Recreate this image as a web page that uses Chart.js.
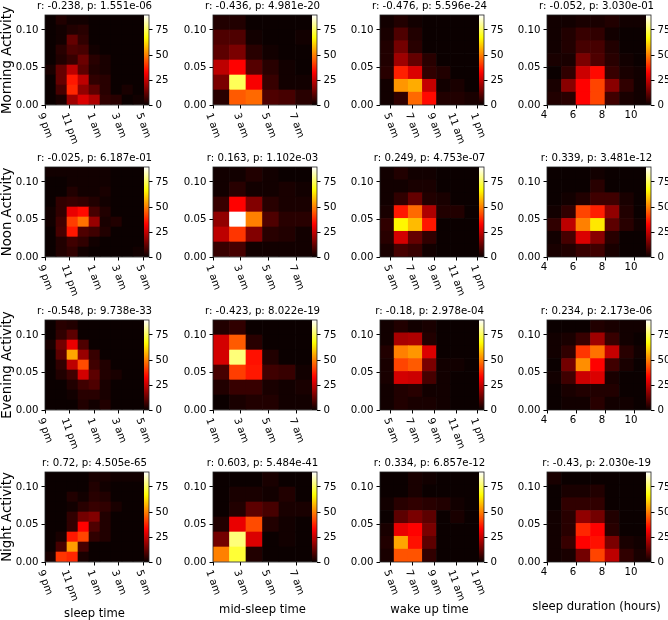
<!DOCTYPE html>
<html><head><meta charset="utf-8">
<style>html,body{margin:0;padding:0;background:#fff;overflow:hidden}#wrap{position:relative;width:668px;height:620px;overflow:hidden}canvas{position:absolute}</style>
<script src="https://cdn.jsdelivr.net/npm/chart.js@4/dist/chart.umd.js"></script>
</head><body><div id="wrap"></div>
<script>
const morningSleepTime=[[0,3,1,1,0,0,0,0,0],[0,1,3,4,0,0,0,0,0],[0,1,12,5,0,0,0,0,0],[0,4,9,8,1,0,0,0,0],[0,3,6,13,4,2,0,0,0],[2,12,24,11,3,2,0,0,0],[0,12,36,24,5,4,0,0,0],[0,8,38,18,11,4,0,2,0],[0,2,20,28,22,5,4,0,1]];
const morningMidSleep=[[3,3,0,0,0,0],[9,9,1,0,0,1],[11,15,4,1,0,0],[24,33,10,4,1,0],[15,75,32,6,1,1],[4,45,47,9,8,4]];
const morningWakeUp=[[1,3,1,0,0,0,0],[2,9,3,0,0,0,0],[3,14,4,0,0,0,0],[3,20,12,4,0,0,0],[4,37,28,5,3,0,0],[1,53,56,25,1,2,0],[1,5,47,34,3,3,2]];
const morningDuration=[[1,1,2,2,3,1,1],[1,3,6,5,1,0,0],[1,3,8,8,3,0,0],[2,2,15,9,4,1,0],[0,5,26,34,6,2,1],[2,17,33,42,17,5,1],[3,4,33,42,7,2,1]];
const noonSleepTime=[[1,1,1,1,1,1,0,0,0],[0,0,1,1,1,1,0,0,0],[0,0,3,1,1,2,0,0,0],[0,5,6,5,3,1,0,0,0],[1,5,30,34,8,3,0,0,0],[1,7,41,48,19,2,3,0,0],[0,8,36,9,7,3,0,0,0],[0,3,7,5,1,0,0,0,0],[0,3,5,1,0,0,0,0,1]];
const noonMidSleep=[[1,1,3,1,0,0],[1,4,1,1,2,1],[6,33,16,4,2,2],[18,90,50,9,4,4],[24,40,16,4,3,1],[6,8,1,1,1,1]];
const noonWakeUp=[[1,3,1,1,0,0,0],[1,1,2,2,0,0,0],[1,5,12,3,2,0,0],[2,36,47,22,3,3,0],[5,66,58,36,0,0,0],[4,27,12,5,0,0,0],[2,8,6,1,0,0,0]];
const noonDuration=[[0,0,0,1,0,0,0],[0,0,0,4,0,0,0],[0,1,3,7,7,2,0],[1,5,42,37,18,3,0],[5,24,50,64,11,4,1],[1,8,28,17,4,0,0],[2,3,6,7,2,0,0]];
const eveningSleepTime=[[0,4,3,0,0,0,0,0,0],[0,5,11,0,0,0,0,0,0],[2,14,30,9,0,0,0,0,0],[0,11,55,19,6,0,0,0,0],[0,5,24,43,7,3,0,0,0],[0,3,7,27,11,3,2,0,0],[0,0,3,7,9,2,0,0,0],[0,0,1,4,4,2,0,0,0],[0,0,0,3,1,3,0,0,0]];
const eveningMidSleep=[[3,5,0,0,0,0],[27,45,4,0,0,0],[27,78,35,3,0,0],[8,41,36,7,6,1],[3,6,6,2,1,2],[0,2,3,3,1,1]];
const eveningWakeUp=[[1,3,1,2,0,0,0],[1,21,22,3,0,0,0],[3,50,53,28,0,0,0],[2,42,45,15,1,1,0],[2,27,26,8,1,0,0],[1,3,4,1,1,0,0],[1,3,2,2,1,0,0]];
const eveningDuration=[[0,0,0,3,2,1,1],[1,2,6,20,6,1,0],[1,5,40,48,25,4,1],[0,14,52,33,7,2,0],[1,7,26,28,2,0,0],[0,2,3,3,3,0,0],[0,1,1,4,1,1,0]];
const nightSleepTime=[[0,0,0,0,2,2,1,1,1],[0,0,0,0,3,1,0,0,0],[0,0,3,1,4,3,0,0,0],[0,0,1,4,6,5,2,0,0],[0,0,5,14,16,3,0,0,0],[0,0,5,33,9,3,0,0,0],[0,2,36,42,5,3,0,0,0],[0,8,54,8,0,0,0,0,0],[2,40,38,2,0,0,0,0,0]];
const nightMidSleep=[[0,0,0,2,0,0],[0,2,2,1,3,0],[0,3,11,8,2,2],[3,30,43,3,1,0],[14,78,28,0,1,0],[50,72,3,0,0,0]];
const nightWakeUp=[[0,0,2,1,0,0,0],[0,0,2,0,0,0,0],[1,4,5,4,3,1,0],[0,11,15,11,0,2,0],[2,30,33,15,0,0,0],[3,55,35,11,0,0,0],[2,44,44,5,0,0,0]];
const nightDuration=[[2,0,0,0,0,0,0],[0,2,2,3,0,0,0],[0,5,5,5,0,0,0],[1,4,18,14,3,0,0],[1,4,38,33,4,0,0],[1,6,33,35,15,2,1],[1,2,14,42,24,5,2]];

const rowLabels=["Morning Activity","Noon Activity","Evening Activity","Night Activity"];
const columnLabels=["sleep time","mid-sleep time","wake up time","sleep duration (hours)"];
const titles=[
 ["r: -0.238, p: 1.551e-06","r: -0.436, p: 4.981e-20","r: -0.476, p: 5.596e-24","r: -0.052, p: 3.030e-01"],
 ["r: -0.025, p: 6.187e-01","r: 0.163, p: 1.102e-03","r: 0.249, p: 4.753e-07","r: 0.339, p: 3.481e-12"],
 ["r: -0.548, p: 9.738e-33","r: -0.423, p: 8.022e-19","r: -0.18, p: 2.978e-04","r: 0.234, p: 2.173e-06"],
 ["r: 0.72, p: 4.505e-65","r: 0.603, p: 5.484e-41","r: 0.334, p: 6.857e-12","r: -0.43, p: 2.030e-19"]];
const grids=[
 [morningSleepTime,morningMidSleep,morningWakeUp,morningDuration],
 [noonSleepTime,noonMidSleep,noonWakeUp,noonDuration],
 [eveningSleepTime,eveningMidSleep,eveningWakeUp,eveningDuration],
 [nightSleepTime,nightMidSleep,nightWakeUp,nightDuration]];
const xTickValues=[[21,23,25,27,29],[1,3,5,7],[5,7,9,11,13],[4,6,8,10]];
const xTickLabels=[["9 pm","11 pm","1 am","3 am","5 am"],["1 am","3 am","5 am","7 am"],["5 am","7 am","9 am","11 am","1 pm"],["4","6","8","10"]];
const xStart=[21,1,4,4];
const xEnd=[29.47,8.47,13.57,11.17];
const binWidth=[0.896,1.185,1.30,1.0];
const yTicks=[0,0.05,0.10];
const yMax=0.12;
const colorbarTicks=[0,25,50,75];
const colorMax=90;

const lefts=[45,213,380,547], tops=[15,167,320,472];
const labelOffset=[52,48,48,45];
const FONT='"DejaVu Sans"';
const TICK=10.2;
Chart.defaults.font.family=FONT;
Chart.defaults.color='#000';

const clamp=v=>Math.max(0,Math.min(1,v));
function hot(t){t=clamp(t);
 const r=clamp(.0416+t*2.626),g=clamp((t-.365)/.381),b=clamp((t-.746)/.254);
 return `rgb(${Math.round(r*255)},${Math.round(g*255)},${Math.round(b*255)})`;}

const frame={id:'frame',afterDatasetsDraw(c,args,opts){
 const a=c.chartArea,ctx=c.ctx,cb=c.scales.cb,w=5;
 const g=ctx.createLinearGradient(0,cb.getPixelForValue(0),0,cb.getPixelForValue(colorMax));
 for(let i=0;i<=40;i++)g.addColorStop(i/40,hot(i/40));
 ctx.save();ctx.fillStyle=g;ctx.fillRect(a.right-w,a.top,w,a.bottom-a.top);
 ctx.strokeStyle='#222';ctx.lineWidth=.8;
 ctx.strokeRect(a.left,a.top,a.right-a.left,a.bottom-a.top);
 ctx.fillStyle='#000';ctx.textAlign='center';ctx.textBaseline='middle';
 if(opts.xLabel){ctx.font=`11.6px ${FONT}`;ctx.fillText(opts.xLabel,a.left+(a.right-a.left-w)/2,a.bottom+opts.xOffset);}
 if(opts.yLabel){ctx.translate(7.5,(a.top+a.bottom)/2);ctx.rotate(-Math.PI/2);ctx.font=`13.3px ${FONT}`;ctx.fillText(opts.yLabel,0,0);}
 ctx.restore();}};

function placeXLabels(scale,rotated){
 if(scale._placed)return;scale._placed=true;
 const orig=scale._computeLabelItems;
 scale._computeLabelItems=function(ca){
  const items=orig.call(this,ca),ctx=this.ctx,s=Math.sin(70*Math.PI/180),k=Math.cos(70*Math.PI/180);
  items.forEach((it,i)=>{
   const px=this.getPixelForValue(this.ticks[i].value);
   ctx.save();ctx.font=it.font.string;const w=ctx.measureText(it.label).width;ctx.restore();
   const h=it.font.size;
   it.textOffset=0;it.options.textAlign='center';it.options.textBaseline='middle';
   it.options.translation=rotated?[px,this.top+6.5+(w*s+h*k)/2]:[px-3,this.top+10];
  });
  return items;};
}

const wrap=document.getElementById('wrap');
grids.forEach((row,r)=>row.forEach((grid,c)=>{
 const cv=document.createElement('canvas');
 cv.width=189;cv.height=163;
 cv.style.left=(lefts[c]-45)+'px';cv.style.top=(tops[r]-15)+'px';
 cv.style.width='189px';cv.style.height='163px';
 wrap.appendChild(cv);
 const n=grid.length,h=yMax/n,cells=[];
 grid.forEach((vals,ri)=>vals.forEach((v,ci)=>cells.push({x:xStart[c]+(ci+.5)*binWidth[c],y:[yMax-(ri+1)*h,yMax-ri*h],v})));
 const rotated=c<3;
 new Chart(cv,{type:'bar',
  data:{datasets:[{data:cells,backgroundColor:cells.map(p=>hot(p.v/colorMax)),borderWidth:0,grouped:false,barPercentage:1,categoryPercentage:1}]},
  options:{responsive:false,animation:false,devicePixelRatio:1,
   layout:{padding:0},
   plugins:{legend:{display:false},tooltip:{enabled:false},
    frame:{xLabel:r===3?columnLabels[c]:'',xOffset:labelOffset[c],yLabel:c===0?rowLabels[r]:''},
    title:{display:true,text:titles[r][c],font:{size:TICK,weight:'normal',family:FONT,lineHeight:1.2},color:'#000',padding:{top:0,bottom:15-TICK*1.2}}},
   scales:{
    x:{type:'linear',offset:false,min:xStart[c],max:xEnd[c],position:'bottom',
     grid:{display:true,drawOnChartArea:false,tickLength:3.5,tickColor:'#000',offset:false},border:{display:false},
     afterBuildTicks:s=>{s.ticks=xTickValues[c].map(value=>({value}));placeXLabels(s,rotated);},
     afterFit:s=>{s.height=58;},
     ticks:{autoSkip:false,minRotation:rotated?-70:0,maxRotation:rotated?-70:0,font:{size:TICK},padding:3,
      callback:v=>xTickLabels[c][xTickValues[c].indexOf(v)]}},
    y:{type:'linear',position:'left',min:0,max:yMax,
     grid:{display:true,drawOnChartArea:false,tickLength:3.5,tickColor:'#000'},border:{display:false},
     afterBuildTicks:s=>{s.ticks=yTicks.map(value=>({value}));},
     afterFit:s=>{s.width=45;},
     ticks:{font:{size:TICK},padding:3,callback:v=>v.toFixed(2)}},
    cb:{type:'linear',position:'right',min:0,max:colorMax,
     grid:{display:true,drawOnChartArea:false,tickLength:3.5,tickColor:'#000'},border:{display:false},
     afterBuildTicks:s=>{s.ticks=colorbarTicks.map(value=>({value}));},
     afterFit:s=>{s.width=40;},
     ticks:{font:{size:TICK},padding:3,callback:v=>String(v)}}
   }},
  plugins:[frame]});
}));
</script></body></html>
